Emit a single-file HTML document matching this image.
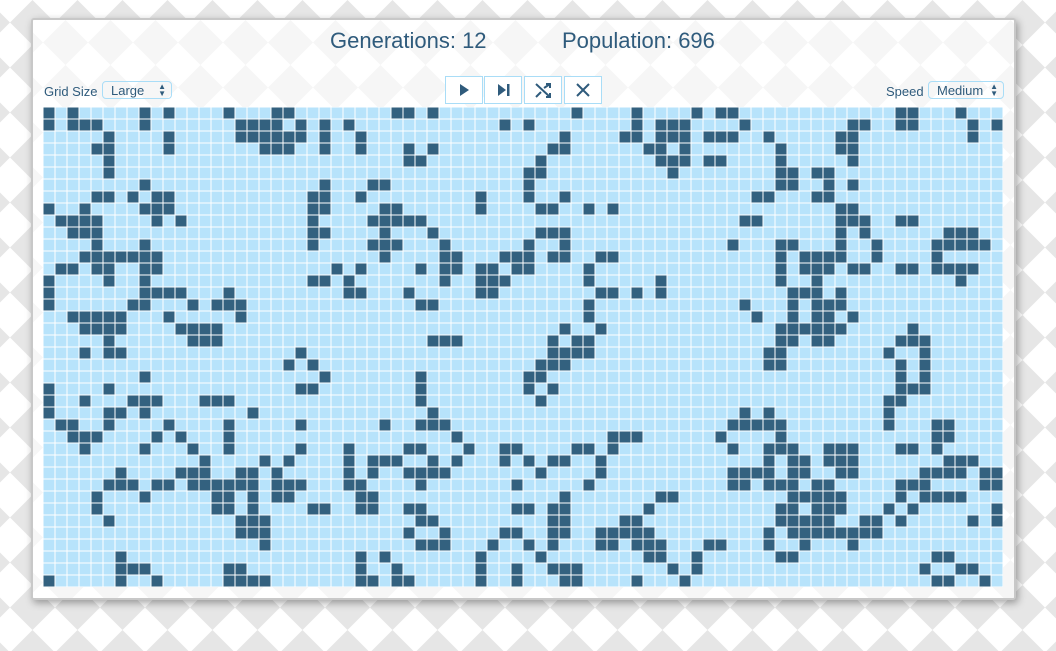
<!DOCTYPE html>
<html><head><meta charset="utf-8">
<style>
html,body{margin:0;padding:0;width:1056px;height:651px;overflow:hidden;font-family:"Liberation Sans",sans-serif;}
#bg{position:absolute;left:0;top:0}
#panel{position:absolute;left:31px;top:18px;width:981px;height:578px;border:2px solid #c8c8c8;border-radius:3px;background:#fff;box-shadow:2px 3px 8px rgba(0,0,0,0.35);overflow:hidden}
.stat{position:absolute;top:8px;font-size:22px;color:#2f5b7c}
.lbl{position:absolute;top:64px;font-size:13px;color:#2f5b7c}
.sel{position:absolute;top:61px;height:18px;border:1px solid #a9ddf7;border-radius:4px;font-size:13px;color:#2f5b7c;line-height:18px;padding-left:8px;box-sizing:border-box}
.arr{position:absolute;right:5px;top:1px;font-size:8px;line-height:7px}
.btn{position:absolute;top:56px;width:38px;height:28px;border:1px solid #a9ddf7;background:#fff;box-sizing:border-box}
#grid{position:absolute;left:10px;top:87px}
</style></head><body>
<svg id="bg" width="1056" height="651">
<defs><pattern id="dia" width="45" height="45" patternUnits="userSpaceOnUse" x="10" y="0">
<rect width="45" height="45" fill="#fff"/><polygon points="22.5,0 45,22.5 22.5,45 0,22.5" fill="#e6e6e6"/></pattern>
<pattern id="dia2" width="45" height="45" patternUnits="userSpaceOnUse" x="10" y="0">
<rect width="45" height="45" fill="#fff"/><polygon points="22.5,0 45,22.5 22.5,45 0,22.5" fill="#f6f6f6"/></pattern></defs>
<rect width="1056" height="651" fill="url(#dia)"/>
</svg>
<div id="panel">
<svg style="position:absolute;left:0;top:0" width="981" height="578"><rect width="981" height="578" fill="url(#dia2)"/></svg>
<div class="stat" style="left:297px">Generations: 12</div>
<div class="stat" style="left:529px">Population: 696</div>
<div class="lbl" style="left:11px">Grid Size</div>
<div class="sel" style="left:69px;width:70px">Large<span class="arr">▲<br>▼</span></div>
<div class="btn" style="left:412px"><svg width="36" height="26"><polygon points="14,7 23,13 14,19" fill="#2f5b7c"/></svg></div>
<div class="btn" style="left:451px"><svg width="36" height="26"><polygon points="13,7 21,13 13,19" fill="#2f5b7c"/><rect x="22" y="7" width="2.5" height="12" fill="#2f5b7c"/></svg></div>
<div class="btn" style="left:491px"><svg width="36" height="26"><g stroke="#2f5b7c" stroke-width="2" fill="none"><path d="M11 7 L25 20 M11 20 L16 15 M19 11 L25 7"/><path d="M21 7 H25 V11 M21 20 H25 V16"/></g></svg></div>
<div class="btn" style="left:531px"><svg width="36" height="26"><g stroke="#2f5b7c" stroke-width="2"><path d="M12 7 L24 19 M24 7 L12 19"/></g></svg></div>
<div class="lbl" style="left:853px">Speed</div>
<div class="sel" style="left:895px;width:76px">Medium<span class="arr">▲<br>▼</span></div>
<svg id="grid" width="960" height="480"></svg>
</div>
<script>
const cols = 80;
const rowsCount = 40;
const liveCells = [
[0,2,8,10,15,19,20,29,30,32,44,49,54,56,57,71,72,76],
[0,2,3,4,8,16,17,18,19,21,23,25,38,40,49,51,52,53,58,67,68,71,72,77,79],
[5,10,16,17,18,19,20,21,23,26,43,48,49,51,52,53,55,56,57,60,66,67,77],
[4,5,10,18,19,20,23,26,30,32,42,43,50,51,53,61,66,67],
[5,30,31,41,51,52,53,55,56,61,67],
[5,40,41,52,61,62,64,65],
[8,23,27,28,40,61,62,65,67],
[4,5,7,9,10,22,23,26,36,40,43,59,60,64,65],
[0,3,8,9,10,22,23,28,29,36,41,42,45,47,66,67],
[1,2,3,4,9,11,22,27,28,29,30,31,58,59,66,67,68,71,72],
[2,3,4,22,23,28,32,41,42,43,66,68,75,76,77],
[4,8,22,27,28,29,33,40,43,57,61,62,66,69,74,75,76,77,78],
[3,4,5,6,7,8,9,28,33,34,38,39,40,42,43,46,47,61,63,64,65,66,69,74],
[1,2,4,5,8,9,24,26,31,33,34,36,37,39,40,45,61,63,64,65,67,68,71,72,74,75,76,77],
[0,5,8,22,23,25,33,36,37,38,45,51,61,64,76],
[0,8,9,10,11,15,25,26,30,36,37,46,47,49,51,62,63,64,66],
[0,7,8,12,14,15,16,31,32,45,58,62,64,65,66],
[2,3,4,5,6,10,16,45,59,62,64,65,67],
[3,4,5,6,11,12,13,14,43,46,61,62,63,64,65,66,72],
[5,12,13,14,32,33,34,42,44,45,61,62,64,65,71,72,73],
[3,5,6,21,42,43,44,45,60,61,70,73],
[20,22,41,42,43,60,61,71,73],
[8,23,31,40,41,71,73],
[0,5,21,22,31,40,42,71,72,73],
[0,3,7,8,9,13,14,15,31,41,70,71],
[0,5,6,8,17,32,58,60,70],
[1,2,5,10,15,21,28,31,32,33,57,58,59,60,61,70,74,75],
[2,3,4,9,11,15,34,47,48,49,56,61,74,75],
[3,8,12,15,21,25,30,31,35,38,39,44,45,47,57,60,61,62,65,66,67,71,72,74],
[13,18,20,25,27,28,29,32,34,38,40,42,43,46,60,62,63,65,66,67,75,76,77],
[6,11,12,13,16,17,19,25,27,30,31,32,33,41,46,57,58,59,60,62,63,66,67,73,74,75,76,78,79],
[5,6,7,9,10,12,13,14,15,16,17,19,20,21,25,26,31,39,45,57,58,60,61,62,64,65,71,72,73,78,79],
[4,8,14,15,17,19,20,26,27,43,51,52,62,63,64,65,66,71,73,74,75,76],
[4,14,15,17,22,23,26,27,30,31,39,40,42,43,50,61,62,64,65,66,70,72,79],
[5,16,17,18,31,32,42,43,48,49,61,62,63,64,65,68,69,71,77,79],
[16,17,18,30,33,38,39,42,43,46,47,48,49,50,60,62,63,64,65,66,67,68,69],
[18,31,32,33,37,40,42,46,47,49,50,51,55,56,60,63,67],
[6,26,28,36,41,50,51,54,61,62,74,75],
[6,7,8,15,16,26,29,36,39,42,43,44,52,54,73,76,77],
[0,6,9,15,16,17,18,26,27,29,30,36,39,43,44,49,53,74,75,78]
];
const NS = "http://www.w3.org/2000/svg";
const grid = document.getElementById('grid');
const cell = 12;
const bgr = document.createElementNS(NS,'rect');
bgr.setAttribute('width', cols*cell); bgr.setAttribute('height', rowsCount*cell); bgr.setAttribute('fill','#ffffff');
grid.appendChild(bgr);
function xPos(c){return c*cell;}
function yPos(r){return r*cell;}
for (let r=0;r<rowsCount;r++){
  const live = new Set(liveCells[r]||[]);
  for (let c=0;c<cols;c++){
    const rc = document.createElementNS(NS,'rect');
    rc.setAttribute('x', xPos(c)+0.5);
    rc.setAttribute('y', yPos(r)+0.5);
    rc.setAttribute('width', 11);
    rc.setAttribute('height', 11);
    const alive = live.has(c);
    rc.setAttribute('fill', alive ? '#33617f' : '#b7e3fb');
    
    
    grid.appendChild(rc);
  }
}
</script>
</body></html>
